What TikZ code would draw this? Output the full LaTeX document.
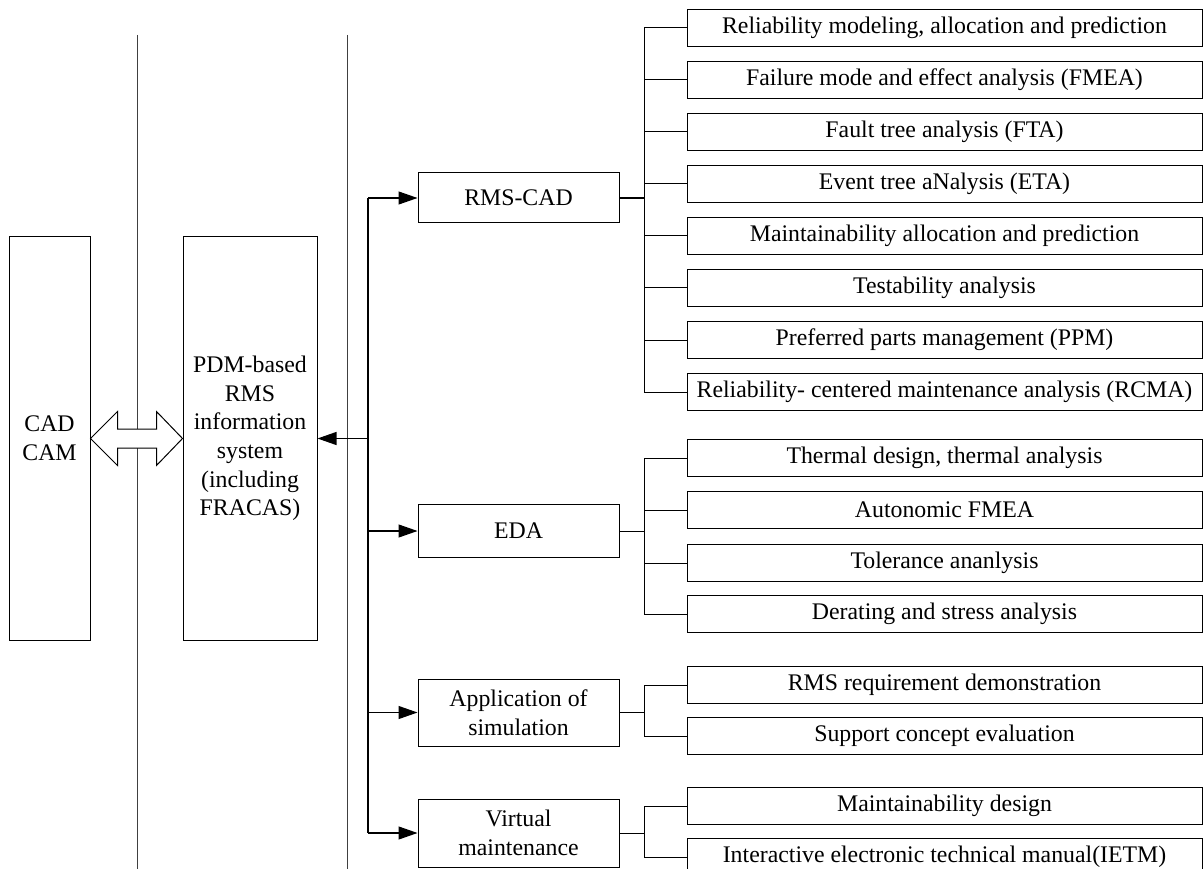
\documentclass[tikz,border=0pt]{standalone}
\usepackage{fontspec}
\setmainfont{Liberation Serif}
\usetikzlibrary{arrows.meta,calc}
\begin{document}
\begin{tikzpicture}[x=1pt,y=-1pt,
  every node/.style={font=\fontsize{23.8}{28.7}\selectfont},
  tall/.style={draw,line width=1pt,inner sep=0pt,minimum height=403pt,align=center},
  lvl/.style={draw,line width=1pt,inner sep=0pt,minimum width=201pt,align=center},
  leaf/.style={draw,line width=1pt,inner sep=0pt,minimum width=515pt,minimum height=37pt},
  ln/.style={line width=1pt},
  arr/.style={line width=1.1pt,-{Triangle[length=19pt,width=13pt]}}]
\useasboundingbox (0,0) rectangle (1203,869);
\clip (0,0) rectangle (1203,869);
% separators
\coordinate (s1t) at (137,35); \coordinate (s1b) at (137,869);
\coordinate (s2t) at (347,35); \coordinate (s2b) at (347,869);
\draw[ln,black!75] (s1t) -- (s1b);
\draw[ln,black!75] (s2t) -- (s2b);
% main boxes
\node[tall,minimum width=81pt] (cad) at (49.5,438.5) {CAD\\CAM};
\node[tall,minimum width=134pt] (pdm) at (250,438.5) {PDM-based\\RMS\\information\\system\\(including\\FRACAS)};
% double arrow
\draw[ln,fill=white] (cad.east) -- ++(27,-27) -- ++(0,17.5) -- ($(pdm.west)+(-26,-9.5)$) -- ++(0,-17.5) -- (pdm.west) -- ++(-26,27) -- ++(0,-17.5) -- ($(cad.east)+(27,9.5)$) -- ++(0,17.5) -- cycle;
% level-1 boxes
\node[lvl,minimum height=50pt] (rms) at (518.5,198) {RMS-CAD};
\node[lvl,minimum height=53pt] (eda) at (518.5,531) {EDA};
\node[lvl,minimum height=67pt] (sim) at (518.5,712.5) {Application of\\simulation};
\node[lvl,minimum height=68pt] (vm) at (518.5,833) {Virtual\\maintenance};
% trunk
\coordinate (tr) at (368,0);
\draw[line width=1.2pt] (rms.west -| tr) -- (vm.west -| tr);
\draw[arr] (pdm.east -| tr) -- (pdm.east);
\draw[arr] (rms.west -| tr) -- (rms.west);
\draw[arr] (eda.west -| tr) -- (eda.west);
\draw[arr] (sim.west -| tr) -- (sim.west);
\draw[arr] (vm.west -| tr) -- (vm.west);
% leaves
\coordinate (br) at (644,0);
\node[leaf] (r1) at (944.5,28) {Reliability modeling, allocation and prediction};
\node[leaf] (r2) at (944.5,80) {Failure mode and effect analysis (FMEA)};
\node[leaf] (r3) at (944.5,132) {Fault tree analysis (FTA)};
\node[leaf] (r4) at (944.5,184) {Event tree aNalysis (ETA)};
\node[leaf] (r5) at (944.5,236) {Maintainability allocation and prediction};
\node[leaf] (r6) at (944.5,288) {Testability analysis};
\node[leaf] (r7) at (944.5,340) {Preferred parts management (PPM)};
\node[leaf] (r8) at (944.5,392) {Reliability- centered maintenance analysis (RCMA)};
\node[leaf] (e1) at (944.5,458) {Thermal design, thermal analysis};
\node[leaf] (e2) at (944.5,510) {Autonomic FMEA};
\node[leaf] (e3) at (944.5,563) {Tolerance ananlysis};
\node[leaf] (e4) at (944.5,614) {Derating and stress analysis};
\node[leaf] (a1) at (944.5,685) {RMS requirement demonstration};
\node[leaf] (a2) at (944.5,736) {Support concept evaluation};
\node[leaf] (v1) at (944.5,806) {Maintainability design};
\node[leaf] (v2) at (944.5,857) {Interactive electronic technical manual(IETM)};
% branch connectors
\draw[line width=1.3pt] (rms.east) -- (rms.east -| br);
\draw[ln] (r1.west -| br) -- (r8.west -| br);
\foreach \n in {r1,r2,r3,r4,r5,r6,r7,r8} \draw[ln] (\n.west -| br) -- (\n.west);
\draw[ln] (eda.east) -- (eda.east -| br);
\draw[ln] (e1.west -| br) -- (e4.west -| br);
\foreach \n in {e1,e2,e3,e4} \draw[ln] (\n.west -| br) -- (\n.west);
\draw[ln] (sim.east) -- (sim.east -| br);
\draw[ln] (a1.west -| br) -- (a2.west -| br);
\foreach \n in {a1,a2} \draw[ln] (\n.west -| br) -- (\n.west);
\draw[ln] (vm.east) -- (vm.east -| br);
\draw[ln] (v1.west -| br) -- (v2.west -| br);
\foreach \n in {v1,v2} \draw[ln] (\n.west -| br) -- (\n.west);
\end{tikzpicture}
\end{document}
